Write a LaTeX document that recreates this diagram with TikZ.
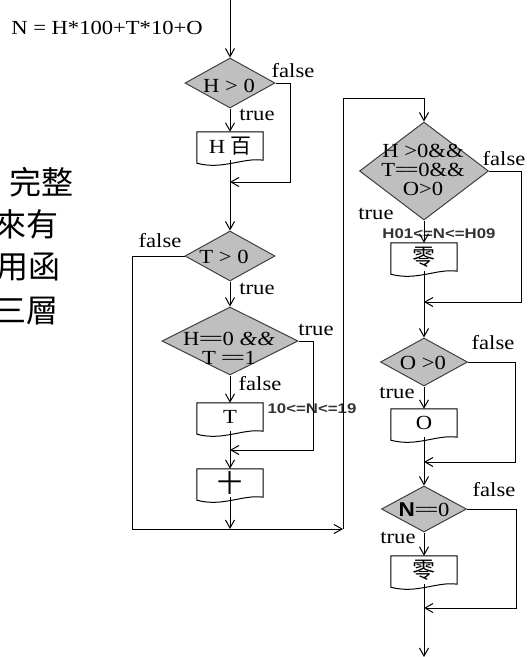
\documentclass[tikz,border=0pt]{standalone}
\usepackage{fontspec}
\setmainfont{Liberation Serif}
\newfontfamily\cjk{Noto Sans CJK TC}
\newfontfamily\lsans{Liberation Sans}
\usetikzlibrary{shapes.geometric,arrows.meta,calc}
\newcommand\sx[1]{\scalebox{1.13}[1]{#1}}
\newcommand\eqq{=\kern-2pt=}
\newcommand\cj[2]{{\cjk\fontsize{#1}{#1}\selectfont #2}}
\tikzset{
 x=1pt,y=-1pt,
 line/.style={draw=black, line width=1pt},
 arr/.style={line, -{Straight Barb[length=8pt,width=9pt]}},
 dia/.style={diamond, draw=black!75, fill=black!25, line width=1pt, inner sep=0pt},
 docn/.style={minimum width=66pt, minimum height=28pt, inner sep=0pt, font=\fontsize{20}{19}\selectfont},
 lbl/.style={inner sep=0pt, font=\fontsize{20}{19}\selectfont, align=center},
 rng/.style={inner sep=0pt, font=\lsans\bfseries\fontsize{14}{14}\selectfont, text=black!80},
 big/.style={inner sep=0pt, anchor=east, font=\cjk\fontsize{32}{32}\selectfont},
}
\newcommand\docbox[4]{%
 \node[docn] (#1) at (#2,#3) {#4};
 \draw[line] ($(#1.south west)+(0,3)$) -- (#1.north west) -- (#1.north east) -- (#1.south east) .. controls +(-20,-3) and +(26,7) .. ($(#1.south west)+(0,3)$) -- cycle;
}
\begin{document}
\begin{tikzpicture}
\clip (0,0) rectangle (529,657);
\useasboundingbox (0,0) rectangle (529,657);
\fill[white] (0,0) rectangle (529,657);
% left text
\node[big] (t1) at (74,182) {完整};
\node[big] (t2) at (59,224) {來有};
\node[big] (t3) at (61,267) {用函};
\node[big] (t4) at (59,311) {三層};
\node[lbl] (formula) at (107,28) {\sx{N = H*100+T*10+O}};
% left column
\coordinate (s0) at (230,0);
\node[dia, minimum width=90pt, minimum height=50pt] (d1) at (230,83) {};
\node[lbl] (d1t) at (229,86) {\sx{H > 0}};
\docbox{b1}{230}{146}{\sx{H} \cj{21}{百}}
\node[dia, minimum width=90pt, minimum height=50pt] (d2) at (230,256) {};
\node[lbl] (d2t) at (224,257) {\sx{T > 0}};
\node[dia, minimum width=136pt, minimum height=68pt] (d3) at (230,341) {};
\node[lbl] (d3t) at (229,348) {\sx{H\eqq0 \textit{\&\&}}\\\sx{T \eqq1}};
\docbox{b2}{230}{417}{\sx{T}}
\docbox{b3}{230}{483}{\cj{25}{十}}
\coordinate (m1) at (230,182);
\coordinate (m2) at (230,450);
\coordinate (m3) at (230,529);
\coordinate (c1) at (343,529);
% right column
\node[dia, minimum width=129pt, minimum height=98pt] (d4) at (424,171) {};
\node[lbl] (d4t) at (423,170) {\sx{H >0\&\&}\\\sx{T\eqq0\&\&}\\\sx{O>0}};
\docbox{b4}{424}{257}{\cj{23}{零}}
\node[dia, minimum width=87pt, minimum height=48pt] (d5) at (424,362) {};
\node[lbl] (d5t) at (423,363) {\sx{O >0}};
\docbox{b5}{424}{423}{\sx{O}}
\node[dia, minimum width=85pt, minimum height=46pt] (d6) at (424,509) {};
\node[lbl] (d6t) at (424,510) {\sx{{\lsans\bfseries N}\eqq0}};
\docbox{b6}{424}{570}{\cj{23}{零}}
\coordinate (m4) at (424,302);
\coordinate (m5) at (424,462);
\coordinate (m6) at (424,608);
\coordinate (e0) at (424,657);
% labels
\node[lbl] (l1f) at (293,71) {\sx{false}};
\node[lbl] (l1t) at (257,115) {\sx{true}};
\node[lbl] (l2f) at (160,241) {\sx{false}};
\node[lbl] (l2t) at (257,289) {\sx{true}};
\node[lbl] (l3t) at (316,330) {\sx{true}};
\node[lbl] (l3f) at (260,384) {\sx{false}};
\node[rng] (r1) at (312,409) {\scalebox{1.2}[1]{10<=N<=19}};
\node[lbl] (l4f) at (504,159) {\sx{false}};
\node[lbl] (l4t) at (376,214) {\sx{true}};
\node[rng] (r2) at (439,234) {\scalebox{1.2}[1]{H01<=N<=H09}};
\node[lbl] (l5f) at (493,343) {\sx{false}};
\node[lbl] (l5t) at (397,393) {\sx{true}};
\node[lbl] (l6f) at (494,490) {\sx{false}};
\node[lbl] (l6t) at (398,538) {\sx{true}};
% connectors
\draw[arr] (s0) -- (d1.north);
\draw[arr] (d1.south) -- (b1.north);
\draw[arr] (d1.east) -- ++(15,0) |- (m1);
\draw[arr] (b1.south) -- (d2.north);
\draw[arr] (d2.west) -- ++(-52,0) |- (c1);
\draw[arr] (c1) |- ($(d4.north)+(0,-23)$) -- (d4.north);
\draw[arr] (d2.south) -- (d3.north);
\draw[arr] (d3.east) -- ++(15,0) |- (m2);
\draw[arr] (d3.south) -- (b2.north);
\draw[arr] (b2.south) -- (b3.north);
\draw[arr] (b3.south) -- (m3);
\draw[arr] (d4.east) -- ++(32,0) |- (m4);
\draw[arr] (d4.south) -- (b4.north);
\draw[arr] (b4.south) -- (d5.north);
\draw[arr] (d5.east) -- ++(47,0) |- (m5);
\draw[arr] (d5.south) -- (b5.north);
\draw[arr] (b5.south) -- (d6.north);
\draw[arr] (d6.east) -- ++(49,0) |- (m6);
\draw[arr] (d6.south) -- (b6.north);
\draw[arr] (b6.south) -- (e0);
\end{tikzpicture}
\end{document}
